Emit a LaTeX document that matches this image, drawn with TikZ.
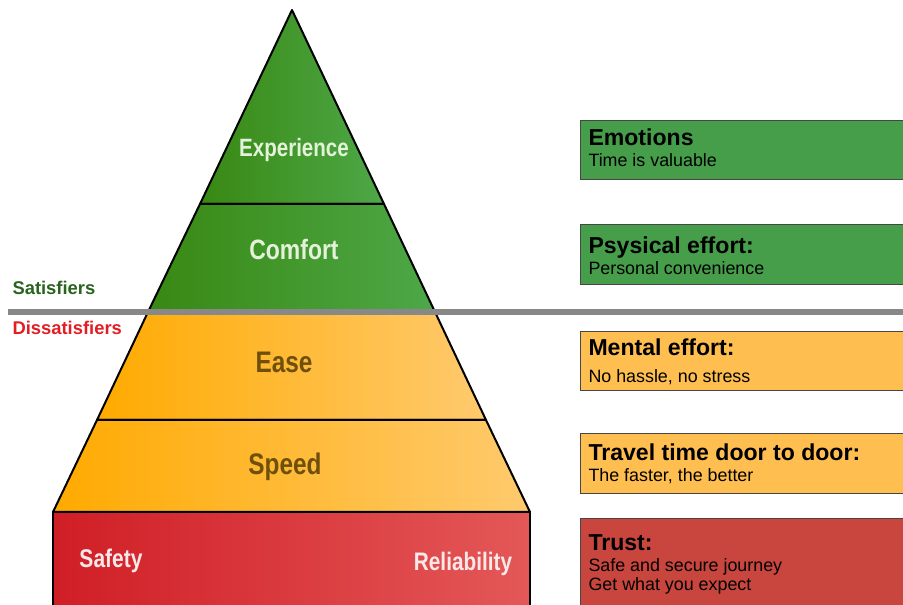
\documentclass[tikz,border=0pt]{standalone}
\usepackage{fontspec}
\setmainfont{Liberation Sans}
\newfontfamily\narrowfont[FakeStretch=0.82]{Liberation Sans}

\definecolor{grnDark}{RGB}{56,136,18}
\definecolor{grnLight}{RGB}{78,168,72}
\definecolor{grnBox}{RGB}{70,158,75}
\definecolor{orgDark}{RGB}{255,170,0}
\definecolor{orgLight}{RGB}{255,202,110}
\definecolor{orgBox}{RGB}{255,190,80}
\definecolor{redDark}{RGB}{208,30,38}
\definecolor{redLight}{RGB}{228,88,88}
\definecolor{redBox}{RGB}{200,70,62}
\definecolor{lineGray}{RGB}{136,136,136}
\definecolor{txtGreen}{RGB}{228,242,218}
\definecolor{txtBrown}{RGB}{110,80,10}
\definecolor{txtPink}{RGB}{252,232,232}
\definecolor{satGreen}{RGB}{40,100,30}
\definecolor{disRed}{RGB}{225,30,35}

\tikzset{every picture/.style={line width=0.75pt}}

\begin{document}
\begin{tikzpicture}[x=0.75pt,y=0.75pt,yscale=-1,xscale=1,
  layer/.style={draw=black,line width=1.5pt,line join=round},
  level/.style={anchor=base,inner sep=0pt,font=\narrowfont\bfseries\fontsize{#1}{#1}\selectfont},
  infobox/.style={draw={rgb,255:red,70;green,70;blue,70},line width=0.75pt},
  boxhead/.style={anchor=base west,inner sep=0pt,font=\bfseries\fontsize{17.3}{20}\selectfont},
  boxtext/.style={anchor=base west,inner sep=0pt,font=\fontsize{13.4}{16}\selectfont},
  side/.style={anchor=base west,inner sep=0pt,font=\bfseries\fontsize{13.8}{16}\selectfont}]
\useasboundingbox (0,0) rectangle (903,605);

%Shape: Triangle [id:experience]
\draw [layer, left color=grnDark, right color=grnLight] (292,10) -- (384,204) -- (200,204) -- cycle ;
%Shape: Trapezoid [id:comfort]
\draw [layer, left color=grnDark, right color=grnLight] (200,204) -- (384,204) -- (435,312) -- (148,312) -- cycle ;
%Shape: Trapezoid [id:ease]
\draw [layer, left color=orgDark, right color=orgLight] (148,312) -- (435,312) -- (486,420) -- (97,420) -- cycle ;
%Shape: Trapezoid [id:speed]
\draw [layer, left color=orgDark, right color=orgLight] (97,420) -- (486,420) -- (530,512) -- (53,512) -- cycle ;
%Shape: Rectangle [id:trust]
\draw [layer, left color=redDark, right color=redLight] (53,512) -- (530,512) -- (530,610) -- (53,610) -- cycle ;

%Straight Lines [id:divider]
\draw [color=lineGray, line width=4.5pt] (8,312) -- (903,312) ;

%Shape: Rectangle [id:boxes]
\draw [infobox, fill=grnBox] (580,121) rectangle (910,180) ;
\draw [infobox, fill=grnBox] (580,225) rectangle (910,285) ;
\draw [infobox, fill=orgBox] (580,332) rectangle (910,391) ;
\draw [infobox, fill=orgBox] (580,434) rectangle (910,494) ;
\draw [infobox, fill=redBox] (580,519) rectangle (910,610) ;

% Text Node
\node (lblExperience) [level=18.8, color=txtGreen] at (294,157) {Experience};
% Text Node
\node (lblComfort) [level=21, color=txtGreen] at (294,260) {Comfort};
% Text Node
\node (lblEase) [level=22.3, color=txtBrown] at (284,373) {Ease};
% Text Node
\node (lblSpeed) [level=22.3, color=txtBrown] at (285,475) {Speed};
% Text Node
\node (lblSafety) [level=19.2, color=txtPink] at (111,567) {Safety};
% Text Node
\node (lblReliability) [level=19, color=txtPink] at (463,570) {Reliability};

% Text Node
\node (satisfiers) [side, color=satGreen] at (12,295) {Satisfiers};
% Text Node
\node (dissatisfiers) [side, color=disRed] at (12,335) {Dissatisfiers};

% Text Node
\node (emotionsHead) [boxhead] at (588,146) {Emotions};
\node (emotionsText) [boxtext] at (588,167) {Time is valuable};
% Text Node
\node (physicalHead) [boxhead] at (588,254) {Psysical effort:};
\node (physicalText) [boxtext] at (588,275) {Personal convenience};
% Text Node
\node (mentalHead) [boxhead] at (588,356) {Mental effort:};
\node (mentalText) [boxtext] at (588,383) {No hassle, no stress};
% Text Node
\node (travelHead) [boxhead] at (588,461) {Travel time door to door:};
\node (travelText) [boxtext] at (588,482) {The faster, the better};
% Text Node
\node (trustHead) [boxhead] at (588,551) {Trust:};
\node (trustText) [boxtext] at (588,571) {Safe and secure journey};
\node (trustText2) [boxtext] at (588,590) {Get what you expect};

\end{tikzpicture}
\end{document}
